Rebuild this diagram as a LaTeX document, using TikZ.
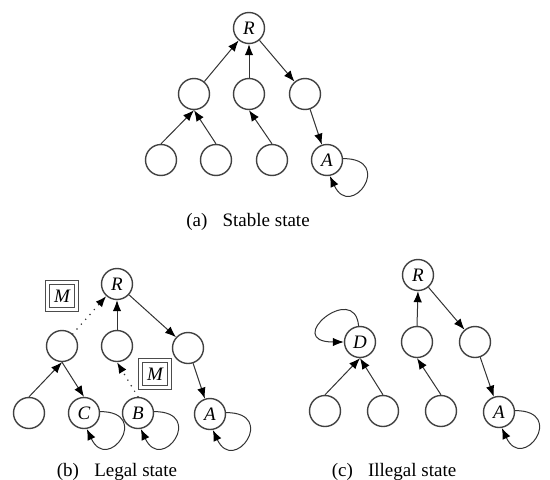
\documentclass[tikz,border=0pt]{standalone}
\usepackage{fontspec}
\setmainfont{Liberation Serif}
\usepackage{tikz}
\usetikzlibrary{arrows.meta}
\usetikzlibrary{positioning}
\tikzset{
    vertex/.style={circle, draw=black!75, line width=1.4pt, minimum size=31pt, inner sep=0pt,
        font=\fontsize{19}{22}\selectfont\itshape},
    edge/.style={draw=black!80, line width=1pt, -{Latex[length=11pt,width=8.5pt,color=black]}},
    dottededge/.style={draw=black!80, line width=1.7pt, line cap=round, dash pattern=on 0pt off 6.5pt,
        -{Latex[length=11pt,width=8.5pt,color=black]}},
    msgbox/.style={draw=black!70, line width=1.1pt, double=white, double distance=2.6pt,
        minimum width=29pt, minimum height=27pt, inner sep=0pt, font=\fontsize{19}{22}\selectfont\itshape},
    caption/.style={anchor=base, font=\fontsize{19}{22}\selectfont},
}
\begin{document}
\begin{tikzpicture}[x=1pt, y=-1pt]
	\useasboundingbox (0,0) rectangle (550,480);
	% (a) stable state
	\node[vertex] (aR) at (249,28) {R};
	\node[vertex] (a1) at (194,94) {};
	\node[vertex] (a2) at (249,94) {};
	\node[vertex] (a3) at (305,94) {};
	\node[vertex] (a4) at (161,160) {};
	\node[vertex] (a5) at (216,160) {};
	\node[vertex] (a6) at (272,160) {};
	\node[vertex] (aA) at (327,160) {A};
	\draw[edge] (a1) -- (aR);
	\draw[edge] (a2.north) -- (aR.south);
	\draw[edge] (aR) -- (a3);
	\draw[edge] (a3) -- (aA);
	\draw[edge] (a4.north) -- (a1.south);
	\draw[edge] (a5.north) -- (a1.south);
	\draw[edge] (a6.north) -- (a2.south);
	\node[caption] (capa) at (248,226) {(a)\hspace{0.8em}Stable state};
	% (b) legal state
	\node[vertex] (bR) at (117,284) {R};
	\node[vertex] (b1) at (62,346) {};
	\node[vertex] (b2) at (117,346) {};
	\node[vertex] (b3) at (188,348) {};
	\node[vertex] (b4) at (29,413) {};
	\node[vertex] (bC) at (84,413) {C};
	\node[vertex] (bB) at (138,413) {B};
	\node[vertex] (bA) at (210,414) {A};
	\node[msgbox] (bM1) at (62,296) {M};
	\node[msgbox] (bM2) at (155,374) {M};
	\draw[dottededge] (b1) -- (bR);
	\draw[edge] (b2.north) -- (bR.south);
	\draw[edge] (bR) -- (b3);
	\draw[edge] (b3) -- (bA);
	\draw[edge] (b4.north) -- (b1.south);
	\draw[edge] (b1.south) -- (bC.north);
	\draw[dottededge] (bB.north) -- (b2.south);
	\node[caption] (capb) at (117,476) {(b)\hspace{0.8em}Legal state};
	% (c) illegal state
	\node[vertex] (cR) at (418,275) {R};
	\node[vertex] (cD) at (360,342) {D};
	\node[vertex] (c2) at (417,342) {};
	\node[vertex] (c3) at (475,342) {};
	\node[vertex] (c4) at (325,411) {};
	\node[vertex] (c5) at (383,411) {};
	\node[vertex] (c6) at (441,411) {};
	\node[vertex] (cA) at (499,412) {A};
	\draw[edge] (c4.north) -- (cD.south);
	\draw[edge] (c5.north) -- (cD.south);
	\draw[edge] (c6.north) -- (c2.south);
	\draw[edge] (c2.north) -- (cR.south);
	\draw[edge] (cR) -- (c3);
	\draw[edge] (c3) -- (cA);
	\draw[edge] (cD.95) .. controls +(95:45pt) and +(180:62pt) .. (cD.west);
	\node[caption] (capc) at (394,476) {(c)\hspace{0.8em}Illegal state};
	% self loops
	\foreach \n in {aA,bC,bB,bA,cA}
		\draw[edge] (\n.5) .. controls +(0:52pt) and +(-65:50pt) .. (\n.-80);
\end{tikzpicture}
\end{document}
